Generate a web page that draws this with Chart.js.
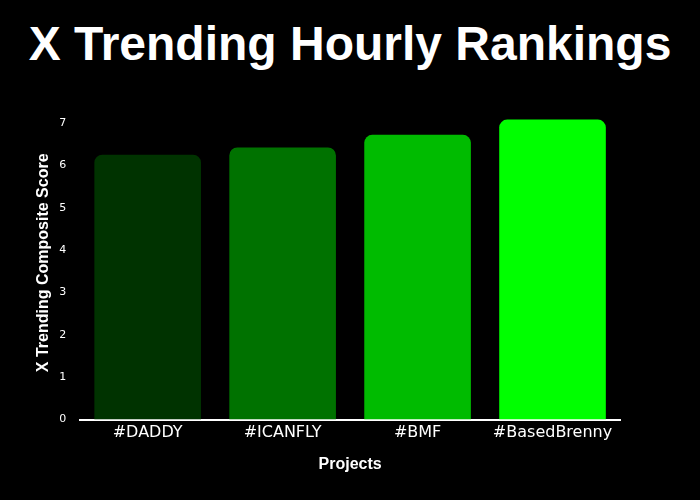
<!DOCTYPE html>
<html><head><meta charset="utf-8">
<script src="https://cdn.jsdelivr.net/npm/chart.js@4"></script>
<style>
body{margin:0;background:#000}
h1{margin:0;padding-top:16px;height:90px;line-height:90px;text-align:center;color:#fff;font:bold 48px 'Liberation Sans',Arial,sans-serif;box-sizing:border-box}
#wrap{width:700px;height:410px}
</style>
</head><body><h1>X Trending Hourly Rankings</h1><div id="wrap"><canvas id="c"></canvas></div>
<script>
const projects = ['#DADDY', '#ICANFLY', '#BMF', '#BasedBrenny'];
const scores = [6.25, 6.42, 6.72, 7.08];
const barColors = ['#003300', '#007200', '#00bb00', '#00ff00'];

new Chart(document.getElementById('c'), {
  type: 'bar',
  data: {
    labels: projects,
    datasets: [{ data: scores, backgroundColor: barColors, borderRadius: { topLeft: 8, topRight: 8 }, borderSkipped: false, categoryPercentage: 0.79, barPercentage: 1 }]
  },
  options: {
    responsive: true, maintainAspectRatio: false, animation: false,
    layout: { padding: { left: 30, right: 80, top: 16, bottom: 22 } },
    plugins: { legend: { display: false }, tooltip: { enabled: false } },
    scales: {
      x: {
        grid: { display: false, drawTicks: false },
        border: { color: '#fff', width: 2 },
        ticks: { color: '#fff', font: { family: 'DejaVu Sans', size: 16 }, padding: 4 },
        title: { display: true, text: 'Projects', color: '#fff', font: { family: 'Liberation Sans', size: 16, weight: 'bold' }, padding: { top: 8 } }
      },
      y: {
        min: 0, max: 7.4,
        afterBuildTicks: s => { s.ticks = [0,1,2,3,4,5,6,7].map(v => ({ value: v })); },
        grid: { display: false },
        border: { display: false },
        ticks: { color: '#fff', font: { family: 'DejaVu Sans', size: 11 }, padding: 6 },
        title: { display: true, text: 'X Trending Composite Score', color: '#fff', font: { family: 'Liberation Sans', size: 16, weight: 'bold' }, padding: { bottom: 0 } }
      }
    }
  }
});
</script></body></html>
